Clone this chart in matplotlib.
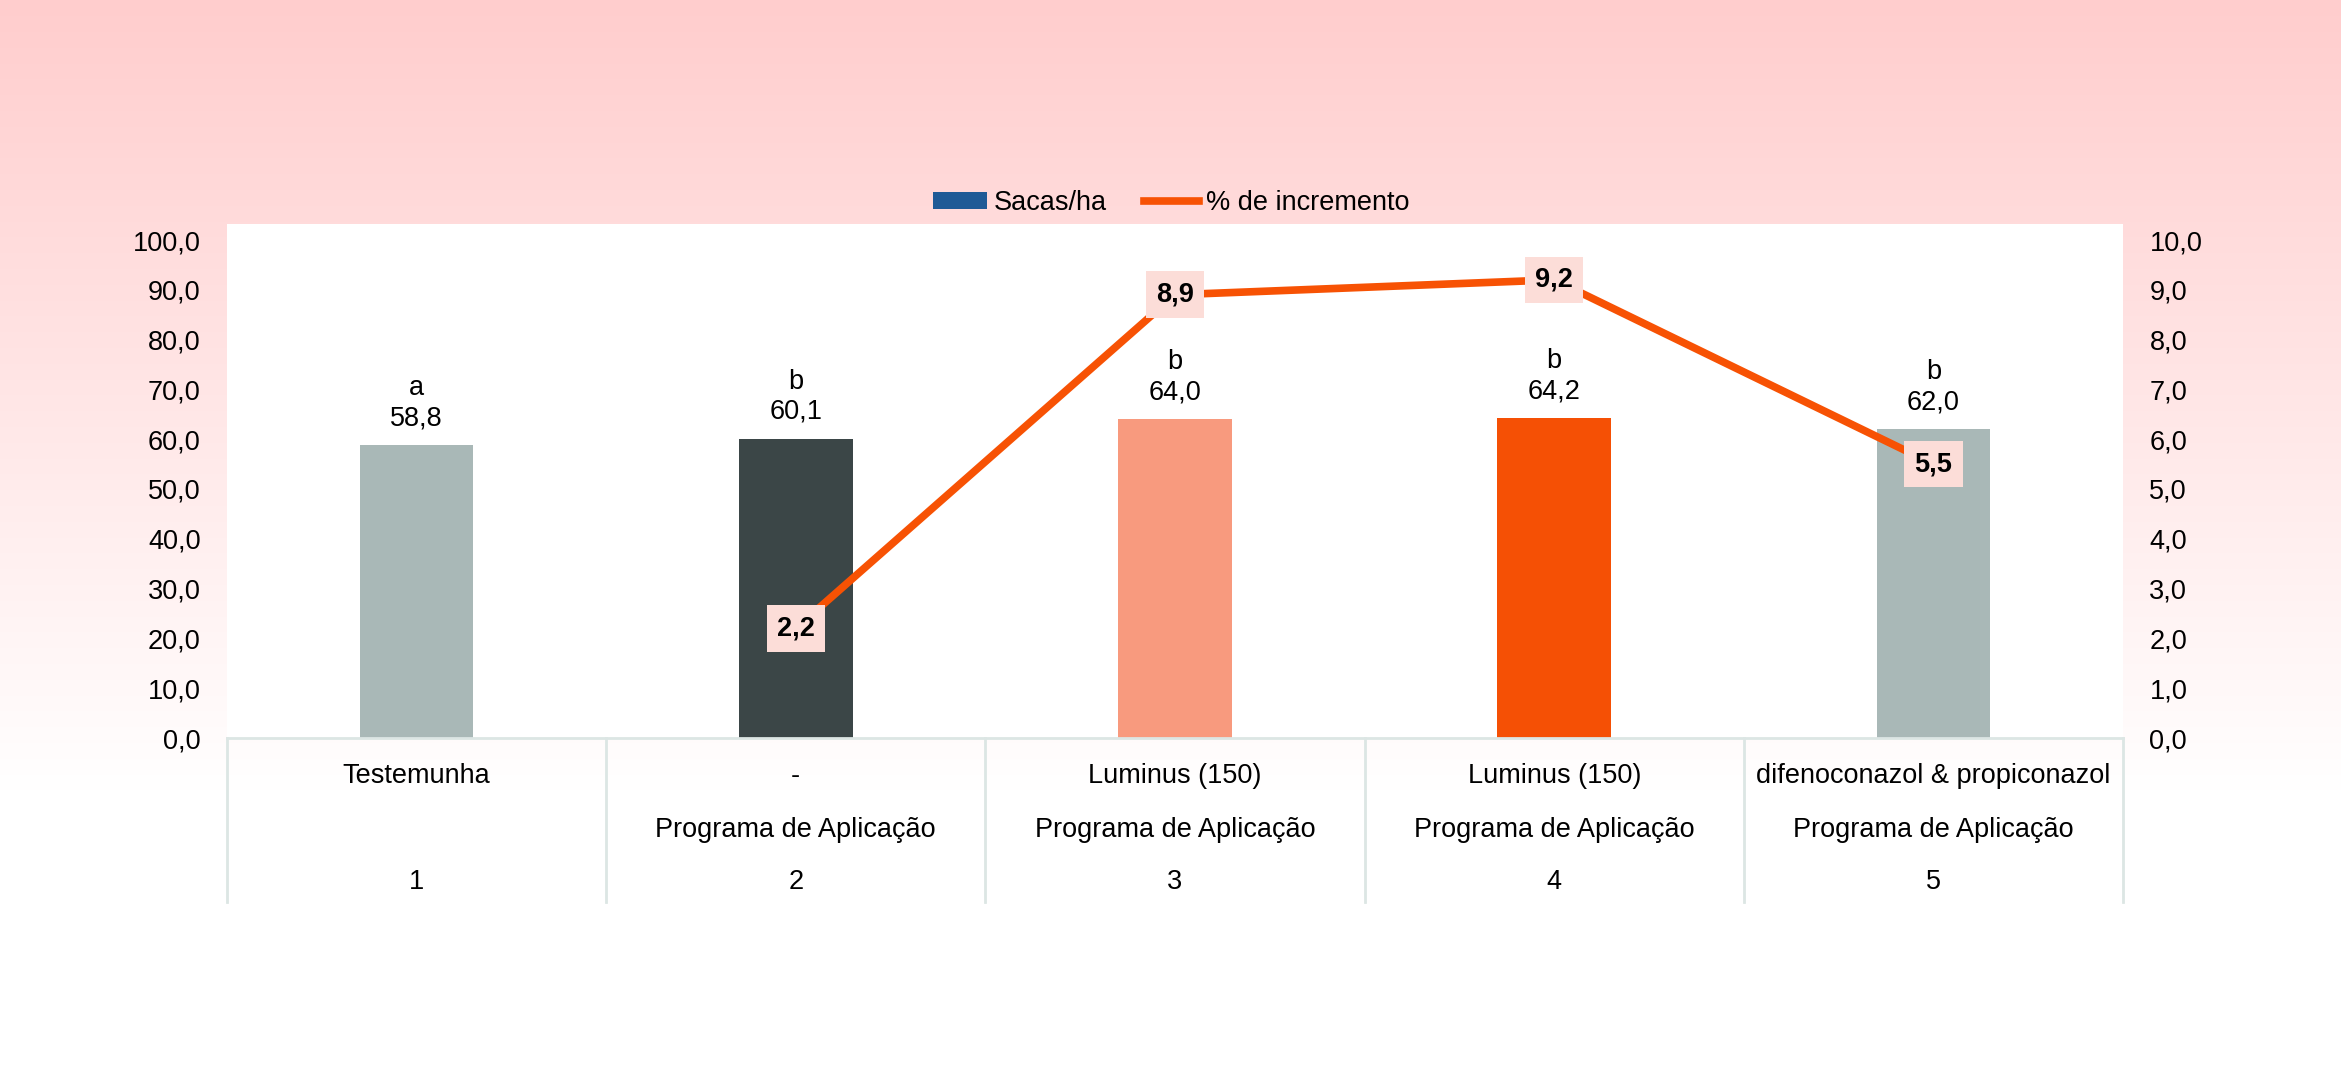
import numpy as np
import matplotlib
matplotlib.use("Agg")
import matplotlib.pyplot as plt
from matplotlib.patches import Patch, Rectangle
from matplotlib.lines import Line2D
import matplotlib.transforms as mtransforms

plt.rcParams['font.family'] = ['Liberation Sans', 'DejaVu Sans']

# ---- data ----
positions = [1, 2, 3, 4, 5]
sacas_ha = [58.8, 60.1, 64.0, 64.2, 62.0]
letters = ['a', 'b', 'b', 'b', 'b']
incr_pos = [2, 3, 4, 5]
incremento = [2.2, 8.9, 9.2, 5.5]
row1 = ['Testemunha', '-', 'Luminus (150)', 'Luminus (150)', 'difenoconazol & propiconazol']
row2 = ['', 'Programa de Aplicação', 'Programa de Aplicação', 'Programa de Aplicação', 'Programa de Aplicação']
row3 = ['1', '2', '3', '4', '5']
left_ticks = [0, 10, 20, 30, 40, 50, 60, 70, 80, 90, 100]
right_ticks = [0, 1, 2, 3, 4, 5, 6, 7, 8, 9, 10]

bar_colors = ['#A9B8B7', '#3B4647', '#F89A7E', '#F55005', '#A9B8B7']
line_color = '#F75204'
grid_color = '#DCE6E4'
box_color = '#FCDDD8'
FS = 19.5

W, H = 2341, 1080
fig = plt.figure(figsize=(W / 100, H / 100), dpi=100)

# background gradient
bg = fig.add_axes([0, 0, 1, 1], zorder=-10)
ys = np.arange(H)
t = np.clip(ys / 790.0, 0, 1)
g = 205 + (255 - 205) * t
img = np.zeros((H, 2, 3))
img[:, :, 0] = 1.0
img[:, :, 1] = (g / 255.0)[:, None]
img[:, :, 2] = (g / 255.0)[:, None]
bg.imshow(img, aspect='auto', extent=[0, 1, 0, 1], origin='upper')
bg.set_xlim(0, 1)
bg.set_ylim(0, 1)
bg.set_axis_off()
# white plot area
bg.add_patch(Rectangle((227 / W, 1 - 738 / H), (2123 - 227) / W, (738 - 224) / H,
                       facecolor='white', edgecolor='none'))

L, R, B, T = 227 / W, 2123 / W, 1 - 738 / H, 1 - 240 / H
AH = 738 - 240
ax = fig.add_axes([L, B, R - L, T - B])
ax.patch.set_alpha(0)
ax.bar(positions, sacas_ha, width=0.30, color=bar_colors, zorder=2)
ax.set_xlim(0.5, 5.5)
ax.set_ylim(0, 100)
ax.set_yticks(left_ticks)
ax.set_yticklabels([f"{v:.1f}".replace('.', ',') for v in left_ticks], fontsize=FS)
ax.tick_params(axis='y', length=0, pad=19)
ax.set_xticks([])
for s in ['top', 'right', 'left']:
    ax.spines[s].set_visible(False)
ax.spines['bottom'].set_color(grid_color)
ax.spines['bottom'].set_linewidth(2)

for x, v, l in zip(positions, sacas_ha, letters):
    ax.annotate(f"{l}\n{v:.1f}".replace('.', ','), (x, v), xytext=(0, 10),
                textcoords='offset points', ha='center', va='bottom',
                fontsize=FS, linespacing=1.2)

# category table below
trans = mtransforms.blended_transform_factory(ax.transData, ax.transAxes)
tb = -(902 - 738) / AH
for xb in np.arange(0.5, 6.0, 1.0):
    ax.plot([xb, xb], [0, tb], transform=trans, color=grid_color, lw=2, clip_on=False)
ry = [-(776 - 738) / AH, -(830 - 738) / AH, -(882 - 738) / AH]
for x, a, b, c in zip(positions, row1, row2, row3):
    for yy, txt in zip(ry, [a, b, c]):
        ax.text(x, yy, txt, transform=trans, ha='center', va='center', fontsize=FS)

ax2 = ax.twinx()
ax2.set_ylim(0, 10)
ax2.set_yticks(right_ticks)
ax2.set_yticklabels([f"{v:.1f}".replace('.', ',') for v in right_ticks], fontsize=FS)
ax2.tick_params(axis='y', length=0, pad=19)
for s in ['top', 'right', 'left', 'bottom']:
    ax2.spines[s].set_visible(False)
ax2.plot(incr_pos, incremento, color=line_color, lw=5.5, zorder=3, solid_capstyle='butt')
for x, v in zip(incr_pos, incremento):
    ax2.text(x, v, f"{v:.1f}".replace('.', ','), ha='center', va='center',
             fontsize=FS, fontweight='bold', zorder=5,
             bbox=dict(boxstyle='square,pad=0.38', fc=box_color, ec='none'))

handles = [Patch(facecolor='#1F5A96', edgecolor='none'),
           Line2D([0], [0], color=line_color, lw=5.5)]
fig.legend(handles, ['Sacas/ha', '% de incremento'], loc='center',
           bbox_to_anchor=(1171 / W, 1 - 203 / H), ncol=2, frameon=False,
           fontsize=FS, handlelength=2.0, handleheight=0.6, handletextpad=0.26,
           columnspacing=1.37)

fig.savefig('out.png', dpi=100)
